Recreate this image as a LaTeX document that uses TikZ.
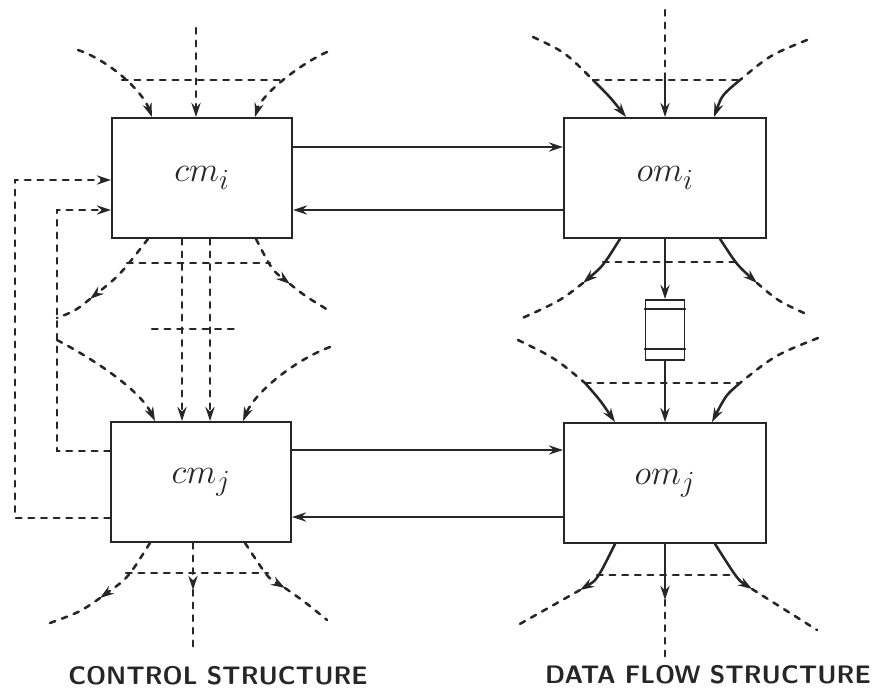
\documentclass[tikz,border=0pt]{standalone}
\usetikzlibrary{arrows.meta,calc}
\begin{document}
\begin{tikzpicture}[x=0.025cm, y=-0.025cm, line cap=round, color=black!85,
  mbox/.style={draw, line width=1.3pt, inner sep=0pt, minimum height=3cm, font=\fontsize{32}{36}\selectfont},
  flow/.style={line width=1.8pt, -{Stealth[length=10pt,width=6.5pt]}},
  dline/.style={line width=1.8pt, dash pattern=on 4pt off 5pt},
  dflow/.style={dline, -{Stealth[length=10pt,width=6.5pt]}},
  caption/.style={font=\sffamily\bfseries\fontsize{18}{20}\selectfont, inner sep=1pt}]
  \useasboundingbox (0,0) rectangle (885,689);
  % modules and the buffer between om_i and om_j
  \node[mbox, minimum width=4.5cm] (cmi) at (202,178) {$cm_i$};
  \node[mbox, minimum width=4.5cm] (cmj) at (201,482) {$cm_j$};
  \node[mbox, minimum width=5.05cm] (omi) at (665,178) {$om_i$};
  \node[mbox, minimum width=5.05cm] (omj) at (665,483) {$om_j$};
  \node[draw, line width=1.3pt, minimum width=0.975cm, minimum height=1.5cm, inner sep=0pt] (buf) at (665,330) {};
  \draw[line width=1.1pt] ($(buf.north west)+(0,10)$) -- ($(buf.north east)+(0,10)$);
  \draw[line width=1.1pt] ($(buf.south west)+(0,-12)$) -- ($(buf.south east)+(0,-12)$);
  % free ends, arrow points and crossings of the fans
  \foreach \n/\x/\y in {ciTL/78/50, ciTM/196/28, ciTR/327/52, ciHL/122/80, ciHR/283/80,
      ciBLa/90/299, ciBL/57/318, ciBRa/290/284, ciBR/328/310, ciBHL/127/263, ciBHR/270/263,
      ciSL/152/329, ciSR/240/329, cjTL/57/340, cjTR/330/347,
      cjBLa/100/598, cjBL/50/623, cjBMa/193/590, cjBM/193/652, cjBRa/285/588, cjBR/327/620,
      cjHL/126/573, cjHR/268/573, fbo/15/180, fbi/57/210,
      oiTL/533/37, oiXL/593/80, oiTM/665/10, oiXM/665/80, oiTR/807/40, oiXR/740/80,
      oiBLa/583/283, oiBL/518/320, oiBRa/757/283, oiBR/804/313, oiHL/603/262, oiHR/736/262,
      ojTL/518/340, ojXL/585/383, ojTR/818/338, ojXR/740/383,
      ojBLa/580/590, ojBL/518/625, ojBMa/665/600, ojBM/665/660, ojBRa/752/589, ojBR/817/630,
      ojHL/597/575, ojHR/736/575}
    \coordinate (\n) at (\x,\y);
  % control structure: fan into cm_i
  \draw[dflow] (ciTL) .. controls (108,60) and (142,90) .. ($(cmi.north)+(-50,0)$);
  \draw[dflow] (ciTM) -- ($(cmi.north)+(-6,0)$);
  \draw[dflow] (ciTR) .. controls (300,64) and (262,94) .. ($(cmi.north)+(53,0)$);
  \draw[dline] (ciHL) -- (ciHR);
  % fan out of cm_i
  \draw[dflow] ($(cmi.south)+(-54,0)$) .. controls (120,275) .. (ciBLa);
  \draw[dline] (ciBLa) .. controls (75,311) .. (ciBL);
  \draw[dflow] ($(cmi.south)+(54,0)$) .. controls (272,270) .. (ciBRa);
  \draw[dline] (ciBRa) .. controls (305,296) .. (ciBR);
  \draw[dline] (ciBHL) -- (ciBHR);
  \draw[dflow] ($(cmi.south)+(-20,0)$) -- ($(cmj.north)+(-19,0)$);
  \draw[dflow] ($(cmi.south)+(8,0)$) -- ($(cmj.north)+(9,0)$);
  \draw[dline] (ciSL) -- (ciSR);
  % fan into cm_j
  \draw[dflow] (cjTL) .. controls (95,360) and (140,390) .. ($(cmj.north)+(-46,0)$);
  \draw[dflow] (cjTR) .. controls (295,360) and (255,392) .. ($(cmj.north)+(42,0)$);
  % fan out of cm_j
  \draw[dflow] ($(cmj.south)+(-51,0)$) .. controls (128,578) .. (cjBLa);
  \draw[dline] (cjBLa) .. controls (80,612) .. (cjBL);
  \draw[dflow] ($(cmj.south)+(-8,0)$) -- (cjBMa);
  \draw[dline] (cjBMa) -- (cjBM);
  \draw[dflow] ($(cmj.south)+(44,0)$) .. controls (268,578) .. (cjBRa);
  \draw[dline] (cjBRa) .. controls (305,602) .. (cjBR);
  \draw[dline] (cjHL) -- (cjHR);
  % feedback from cm_j to cm_i
  \draw[dflow] ($(cmj.west)+(0,36)$) -| (fbo) -- (fbo -| cmi.west);
  \draw[dflow] ($(cmj.west)+(0,-31)$) -| (fbi) -- (fbi -| cmi.west);
  % control <-> operation
  \draw[flow] ($(cmi.east)+(0,-31)$) -- ($(omi.west)+(0,-31)$);
  \draw[flow] ($(omi.west)+(0,32)$) -- ($(cmi.east)+(0,32)$);
  \draw[flow] ($(cmj.east)+(0,-32)$) -- ($(omj.west)+(0,-33)$);
  \draw[flow] ($(omj.west)+(0,34)$) -- ($(cmj.east)+(0,35)$);
  % data flow: fan into om_i
  \draw[dline] (oiTL) .. controls (565,52) .. (oiXL);
  \draw[flow] (oiXL) .. controls (610,97) .. ($(omi.north)+(-39,0)$);
  \draw[dline] (oiTM) -- (oiXM);
  \draw[flow] (oiXM) -- (omi.north);
  \draw[dline] (oiTR) .. controls (770,55) .. (oiXR);
  \draw[flow] (oiXR) .. controls (722,95) .. ($(omi.north)+(49,0)$);
  \draw[dline] (oiXL) -- (oiXR);
  % fan out of om_i, through the buffer
  \draw[flow] ($(omi.south)+(-45,0)$) .. controls (603,266) .. (oiBLa);
  \draw[dline] (oiBLa) .. controls (560,301) .. (oiBL);
  \draw[flow] ($(omi.south)+(55,0)$) .. controls (737,265) .. (oiBRa);
  \draw[dline] (oiBRa) .. controls (778,301) .. (oiBR);
  \draw[dline] (oiHL) -- (oiHR);
  \draw[flow] (omi.south) -- (buf.north);
  \draw[flow] (buf.south) -- (omj.north);
  % fan into om_j
  \draw[dline] (ojTL) .. controls (555,358) .. (ojXL);
  \draw[flow] (ojXL) .. controls (600,400) .. ($(omj.north)+(-50,0)$);
  \draw[dline] (ojTR) .. controls (775,355) .. (ojXR);
  \draw[flow] (ojXR) .. controls (726,395) .. ($(omj.north)+(47,0)$);
  \draw[dline] (ojXL) -- (ojXR);
  % fan out of om_j
  \draw[flow] ($(omj.south)+(-50,0)$) .. controls (597,580) .. (ojBLa);
  \draw[dline] (ojBLa) .. controls (550,607) .. (ojBL);
  \draw[flow] (omj.south) -- (ojBMa);
  \draw[dline] (ojBMa) -- (ojBM);
  \draw[flow] ($(omj.south)+(50,0)$) .. controls (738,580) .. (ojBRa);
  \draw[dline] (ojBRa) .. controls (785,610) .. (ojBR);
  \draw[dline] (ojHL) -- (ojHR);
  % captions
  \node[caption] (ctrlcap) at (218,676) {CONTROL STRUCTURE};
  \node[caption] (datacap) at (708,675) {DATA FLOW STRUCTURE};
\end{tikzpicture}
\end{document}
